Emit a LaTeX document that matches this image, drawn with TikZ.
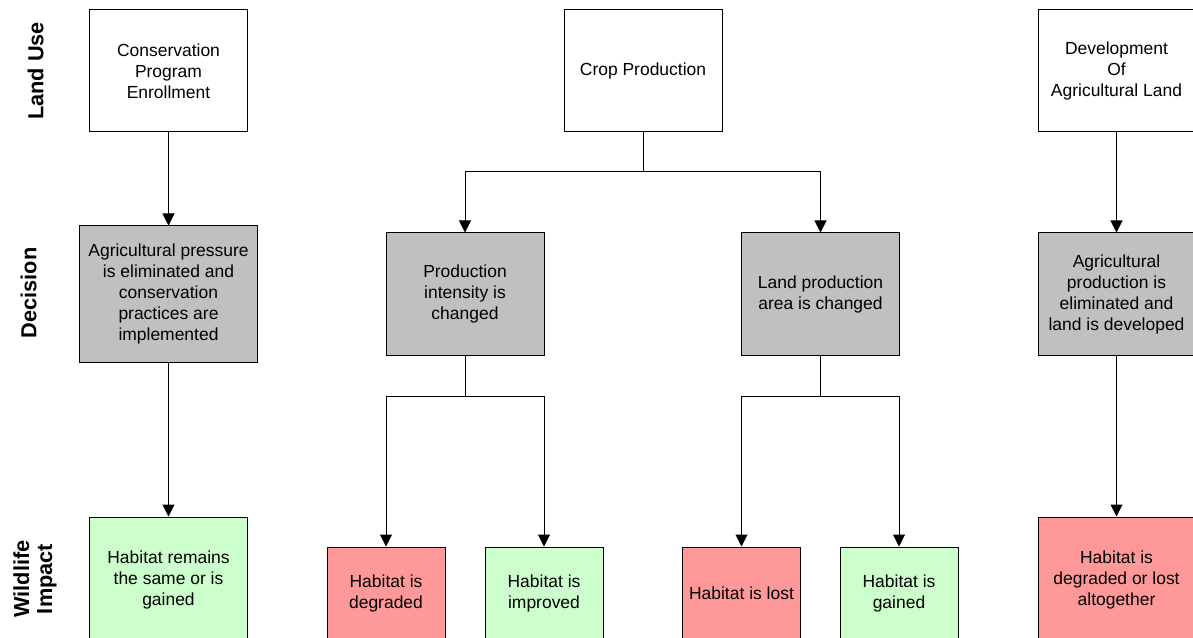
\documentclass[tikz,border=0pt]{standalone}
\usepackage{fontspec}
\setmainfont{Liberation Sans}
\usetikzlibrary{arrows.meta}
\definecolor{decgray}{HTML}{C0C0C0}
\definecolor{goodgreen}{HTML}{CCFFCC}
\definecolor{badred}{HTML}{FF9999}

\begin{document}
\begin{tikzpicture}[x=0.75pt,y=-0.75pt,line width=0.75pt,
  box/.style={draw,fill=white,align=center,inner sep=2pt,
    font=\fontsize{13.1pt}{15.75pt}\selectfont,
    minimum width=118.5pt,minimum height=91.5pt},
  decision/.style={box,fill=decgray},
  good/.style={box,fill=goodgreen},
  bad/.style={box,fill=badred},
  small/.style={minimum width=88.5pt,minimum height=69pt},
  tall/.style={minimum height=93.75pt},
  rowlabel/.style={rotate=90,align=center,inner sep=0pt,
    font=\fontsize{16.3pt}{17.25pt}\selectfont\bfseries},
  link/.style={-{Triangle[length=9pt,width=9pt]}}]
  \useasboundingbox (0,0) rectangle (1193,638);
  \clip (0,0) rectangle (1193,638);

  \node[rowlabel] (landuse) at (35.5,71) {Land Use};
  \node[rowlabel] (decisionrow) at (28.5,293) {Decision};
  \node[rowlabel] (impactrow) at (35,579) {Wildlife\\Impact};

  \node[box] (conserve) at (168.5,71) {Conservation\\Program\\Enrollment};
  \node[box] (crop) at (643,71) {Crop Production};
  \node[box,minimum width=117.75pt] (develop) at (1116.5,71) {Development\\Of\\Agricultural Land};

  \node[decision,minimum width=133.5pt,minimum height=102pt] (eliminate) at (168.5,294)
    {Agricultural pressure\\is eliminated and\\conservation\\practices are\\implemented};
  \node[decision] (intensity) at (465,294) {Production\\intensity is\\changed};
  \node[decision] (area) at (820.5,294) {Land production\\area is changed};
  \node[decision,minimum width=117.75pt] (devdecision) at (1116.5,294)
    {Agricultural\\production is\\eliminated and\\land is developed};

  \node[good,tall] (same) at (168.5,579.5) {Habitat remains\\the same or is\\gained};
  \node[bad,small] (degraded) at (386,593) {Habitat is\\degraded};
  \node[good,small] (improved) at (544,593) {Habitat is\\improved};
  \node[bad,small] (lost) at (741.5,593) {Habitat is lost};
  \node[good,small] (gained) at (899,593) {Habitat is\\gained};
  \node[bad,tall,minimum width=117.75pt] (altogether) at (1116.5,579.5)
    {Habitat is\\degraded or lost\\altogether};

  \coordinate (cropsplit) at (643,172);
  \coordinate (intensitysplit) at (465,396);
  \coordinate (areasplit) at (820.5,396);

  \draw[link] (conserve) -- (eliminate);
  \draw[link] (eliminate) -- (same);
  \draw[link] (crop.south) -- (cropsplit) -| (intensity.north);
  \draw[link] (cropsplit) -| (area.north);
  \draw (intensity.south) -- (intensitysplit);
  \draw[link] (intensitysplit) -| (degraded.north);
  \draw[link] (intensitysplit) -| (improved.north);
  \draw (area.south) -- (areasplit);
  \draw[link] (areasplit) -| (lost.north);
  \draw[link] (areasplit) -| (gained.north);
  \draw[link] (develop) -- (devdecision);
  \draw[link] (devdecision) -- (altogether);
\end{tikzpicture}
\end{document}
